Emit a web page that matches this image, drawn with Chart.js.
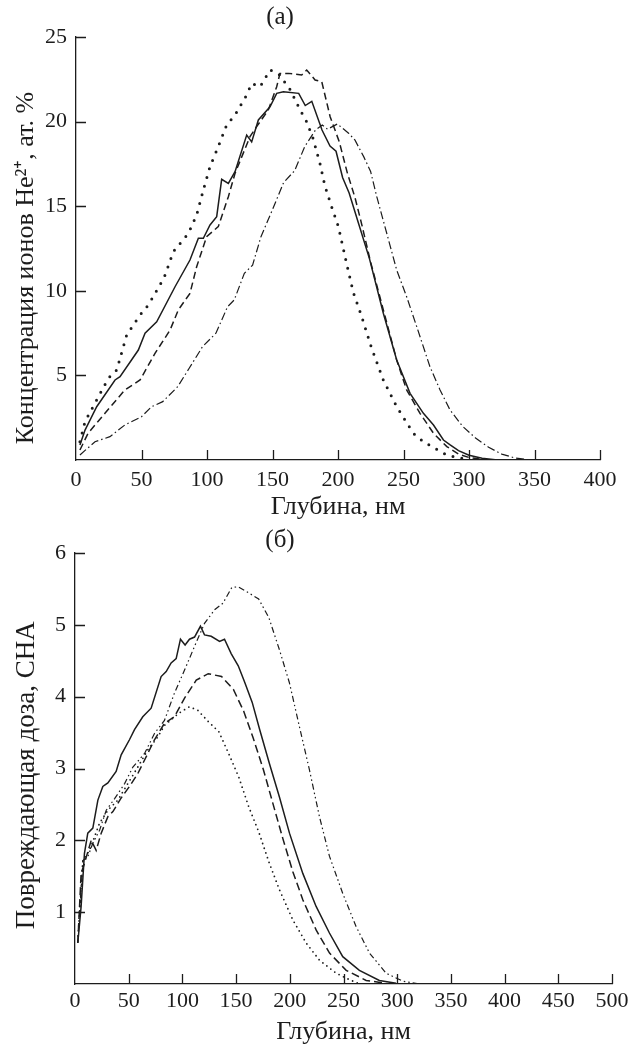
<!DOCTYPE html>
<html>
<head>
<meta charset="utf-8">
<script src="https://cdn.jsdelivr.net/npm/chart.js@4.4.1/dist/chart.umd.min.js"></script>
<style>
  html, body { margin: 0; padding: 0; background: #fff; }
  #wrap { position: relative; width: 633px; height: 1046px; background: #fff; overflow: hidden; }
  .panel { position: absolute; left: 0; width: 633px; }
  #p1 { top: 0; height: 525px; }
  #p2 { top: 525px; height: 524px; }
</style>
</head>
<body>
<div id="wrap">
  <div class="panel" id="p1"><canvas id="c1"></canvas></div>
  <div class="panel" id="p2"><canvas id="c2"></canvas></div>
</div>
<script>
// ---------- DATA ----------
// Panel (а): He2+ concentration, at.%, vs depth, nm  [depth, value]
const aSolid = [[3,0.89],[6.9,1.77],[15.8,3.15],[29.8,4.73],[33.6,4.92],[47.6,6.5],[52.7,7.49],[61.6,8.17],[75.6,10.24],[87,11.82],[93.4,13.1],[97.2,13.1],[102.3,13.89],[107.4,14.38],[111.2,16.59],[116.3,16.35],[121.4,17.04],[130.3,19.2],[134.1,18.8],[139.2,20.1],[148.1,20.88],[153.2,21.67],[158.3,21.77],[170,21.67],[175,20.95],[180,21.2],[187.8,19.5],[193.9,18.55],[198.5,18.25],[203.5,16.7],[208.5,15.78],[216,13.9],[224,11.9],[234.6,8.67],[244.8,5.91],[255,3.94],[265.2,2.76],[272.9,2.07],[280.5,1.18],[285.6,0.89],[292,0.55],[300,0.28],[310,0.1],[320,0.02]];
const aDash = [[3,0.59],[9.2,1.58],[22.1,2.76],[37.3,4.14],[48.9,4.73],[60.3,6.3],[71.8,7.68],[78.1,8.87],[87,9.85],[92.1,11.42],[99.7,13.2],[108.6,13.79],[116.3,15.56],[121.4,16.94],[132.8,19.11],[137.9,19.7],[146.8,20.69],[153.2,22.06],[155.7,22.85],[162.1,22.85],[172.3,22.75],[176.1,23.05],[182.5,22.46],[187.6,22.36],[194,20.29],[201,18.8],[207,17.0],[213,15.5],[218.2,13.9],[224.5,11.82],[234.6,8.87],[244.8,5.91],[252.4,4.14],[262.6,2.76],[272.9,1.58],[283.1,0.79],[292,0.35],[300,0.15],[310,0.03]];
const aDot = [[3,1.08],[6.9,2.27],[15.8,3.55],[24.7,4.83],[31.1,5.32],[38.7,7.39],[48.9,8.57],[55.2,9.16],[64.1,10.34],[68,10.93],[74.3,12.31],[85.8,13.4],[92.1,14.48],[97.2,15.96],[102.3,17.34],[108.6,18.52],[115,19.8],[121.4,20.39],[130.3,21.57],[134.1,22.26],[140.5,22.06],[148.1,23.05],[155,22.8],[163.4,21.9],[171,20.7],[176,20.0],[181,19.0],[186.3,17.5],[190,16.2],[195,15.0],[200.3,13.8],[206.6,11.6],[211.7,9.9],[218,8.5],[225.7,6.6],[234.6,4.73],[244.8,3.15],[257.5,1.58],[265.2,1.08],[274,0.69],[283,0.3],[292,0.12],[300,0.05]];
const aDashDot = [[3,0.3],[14.5,1.08],[25.9,1.38],[37.3,2.07],[50,2.56],[57.7,3.15],[66.2,3.45],[77.6,4.33],[86.4,5.42],[96.6,6.7],[106.8,7.49],[115.7,9.06],[120.8,9.46],[128.5,11.03],[134.8,11.52],[141.2,13.2],[150,14.8],[158.5,16.4],[166.9,17.1],[174.6,18.52],[182.8,19.5],[188,19.8],[192,19.55],[199.5,19.86],[208.3,19.3],[213,18.9],[219.8,17.9],[224.9,17.05],[229.6,15.56],[237.2,13.4],[244.8,11.23],[252.4,9.65],[260.1,7.88],[270.2,5.51],[277.9,4.14],[285.5,2.96],[295,2.0],[305,1.3],[315,0.75],[325,0.35],[335,0.12],[345,0.02]];

// Panel (б): damage dose, dpa, vs depth, nm  [depth, value]
const bSolid = [[2.6,0.57],[5.7,1.08],[8.8,1.82],[11.9,2.1],[16.6,2.17],[21.3,2.56],[25.9,2.75],[30.6,2.8],[38.3,2.96],[43,3.19],[50.7,3.4],[55.4,3.54],[63.1,3.72],[70.9,3.84],[80.2,4.28],[84.9,4.35],[89.5,4.47],[94.2,4.53],[98.2,4.8],[102.5,4.72],[106.6,4.8],[111.3,4.83],[116.8,4.98],[120.6,4.86],[126.8,4.84],[134.6,4.77],[139.2,4.8],[145.4,4.6],[152,4.43],[158,4.2],[165,3.92],[172,3.54],[181,3.07],[190.4,2.6],[199.7,2.1],[212.1,1.54],[224.5,1.08],[236.9,0.71],[249.3,0.38],[264.8,0.19],[283.4,0.05],[299,0.01]];
const bDash = [[2.6,0.57],[5.7,1.54],[8.8,1.68],[15.1,2.0],[19.7,1.86],[24.4,2.1],[30.6,2.33],[35.3,2.4],[43,2.59],[50.7,2.75],[58.5,2.93],[67.8,3.21],[74,3.4],[83.3,3.63],[92.6,3.72],[102,3.98],[112.9,4.23],[124,4.32],[136.5,4.28],[147.5,4.1],[157,3.8],[166,3.42],[175.5,2.98],[184.5,2.5],[193.6,2.02],[202.9,1.56],[212.2,1.17],[224.6,0.75],[237,0.43],[252.5,0.19],[271.1,0.05],[289.7,0.01]];
const bDot = [[2.6,0.6],[7.3,1.72],[13.5,1.86],[18.2,2.05],[22.9,2.24],[30.6,2.42],[39.9,2.56],[49.2,2.79],[58.5,3.02],[67.8,3.26],[77.1,3.44],[83.3,3.6],[92.6,3.72],[98.8,3.79],[106.6,3.86],[114.4,3.81],[123,3.67],[134,3.51],[143,3.21],[152.5,2.88],[161.7,2.47],[171,2.12],[180.5,1.7],[190.4,1.31],[202.9,0.89],[215.3,0.57],[227.7,0.33],[243.2,0.15],[255.6,0.06],[265,0.0]];
const bDashDotDot = [[4.2,0.94],[7.3,1.72],[11.9,1.77],[16.6,1.96],[22.9,2.14],[29.1,2.42],[36.9,2.58],[46.2,2.79],[53.9,3.02],[64.8,3.21],[74.1,3.49],[83.3,3.67],[92.6,4.05],[102,4.37],[111.3,4.7],[120.6,5.02],[130,5.21],[137.7,5.3],[146,5.52],[151.7,5.53],[160,5.46],[171,5.36],[180.5,5.1],[190.4,4.65],[199.7,4.19],[209,3.58],[218.3,2.98],[227.6,2.33],[236.9,1.78],[249.3,1.26],[261.7,0.8],[274.2,0.43],[289.7,0.15],[305.2,0.04],[320.7,0.0]];

// Axes / labels
const panelA = { label: '(а)', xMax: 400, xStep: 50, yMax: 25, yStep: 5,
  xTitle: 'Глубина, нм', yTitle: 'Концентрация ионов He²⁺, ат. %      ' };
const panelB = { label: '(б)', xMax: 500, xStep: 50, yMax: 6, yStep: 1,
  xTitle: 'Глубина, нм', yTitle: 'Повреждающая доза, СНА  ' };

// ---------- RENDER ----------
const INK = '#1c1c1c';
const FONT = "'Liberation Serif', 'Times New Roman', serif";
const toXY = arr => arr.map(p => ({ x: p[0], y: p[1] }));

const inwardTicks = {
  id: 'inwardTicks',
  afterDatasetsDraw(chart) {
    const { ctx, chartArea: a, scales: { x, y } } = chart;
    ctx.save();
    ctx.strokeStyle = INK; ctx.lineWidth = 1.3;
    ctx.beginPath();
    x.ticks.forEach(t => { if (t.value === 0) return; const px = Math.round(x.getPixelForValue(t.value)) + 0.5; ctx.moveTo(px, a.bottom); ctx.lineTo(px, a.bottom - 10); });
    y.ticks.forEach(t => { if (t.value === 0) return; const py = Math.round(y.getPixelForValue(t.value)) + 0.5; ctx.moveTo(a.left, py); ctx.lineTo(a.left + 10, py); });
    ctx.stroke();
    ctx.restore();
  }
};
const panelLabel = {
  id: 'panelLabel',
  afterDraw(chart, args, opts) {
    const { ctx } = chart;
    ctx.save();
    ctx.fillStyle = INK; ctx.font = '25px ' + FONT;
    ctx.textAlign = 'center'; ctx.textBaseline = 'middle';
    ctx.fillText(opts.text, opts.x, opts.y);
    ctx.restore();
  }
};

function makeChart(id, cfg, sets, geom) {
  return new Chart(document.getElementById(id), {
    type: 'line',
    data: { datasets: sets },
    options: {
      responsive: true, maintainAspectRatio: false, animation: false,
      layout: { padding: { left: 0, top: geom.top, right: geom.right, bottom: 0 } },
      plugins: { legend: { display: false }, tooltip: { enabled: false },
        panelLabel: { text: cfg.label, x: 280, y: geom.labelY } },
      elements: { point: { radius: 0 }, line: { tension: 0, borderColor: INK, fill: false } },
      scales: {
        x: {
          type: 'linear', min: 0, max: cfg.xMax,
          grid: { display: false, drawTicks: false },
          border: { display: true, color: INK, width: 1.3 },
          ticks: { stepSize: cfg.xStep, color: INK, padding: geom.xTickPad, font: { family: FONT, size: 22 }, maxRotation: 0 },
          title: { display: true, text: cfg.xTitle, color: INK, font: { family: FONT, size: 26 }, padding: { top: 0, bottom: geom.xTitlePad } },
          afterFit: s => { s.height = geom.xH; }
        },
        y: {
          type: 'linear', min: 0, max: cfg.yMax,
          grid: { display: false, drawTicks: false },
          border: { display: true, color: INK, width: 1.3 },
          ticks: { stepSize: cfg.yStep, color: INK, padding: 9, font: { family: FONT, size: 22 },
            callback: v => v === 0 ? '' : v },
          title: { display: true, text: cfg.yTitle, color: INK, font: { family: FONT, size: geom.yTitleSize }, padding: { top: geom.yTitlePad, bottom: 0 } },
          afterFit: s => { s.width = geom.yW; }
        }
      }
    },
    plugins: [inwardTicks, panelLabel]
  });
}

const dsA = [
  { data: toXY(aSolid), borderWidth: 1.5 },
  { data: toXY(aDash), borderWidth: 1.5, borderDash: [7, 4] },
  { data: toXY(aDot), borderWidth: 3, borderDash: [0, 9], borderCapStyle: 'round' },
  { data: toXY(aDashDot), borderWidth: 1.2, borderDash: [8, 3, 1.5, 3] }
];
const dsB = [
  { data: toXY(bSolid), borderWidth: 1.5 },
  { data: toXY(bDash), borderWidth: 1.5, borderDash: [8, 4] },
  { data: toXY(bDot), borderWidth: 1.8, borderDash: [0, 5], borderCapStyle: 'round' },
  { data: toXY(bDashDotDot), borderWidth: 1.2, borderDash: [6, 3, 1.5, 3, 1.5, 3] }
];

makeChart('c1', panelA, dsA, { top: 37, right: 33, xH: 65, yW: 76, xTickPad: 7, xTitlePad: 2, yTitlePad: 11, yTitleSize: 26, labelY: 17 });
makeChart('c2', panelB, dsB, { top: 28, right: 21, xH: 65, yW: 75, xTickPad: 4, xTitlePad: 1, yTitlePad: 11, yTitleSize: 27, labelY: 15 });
</script>
</body>
</html>
